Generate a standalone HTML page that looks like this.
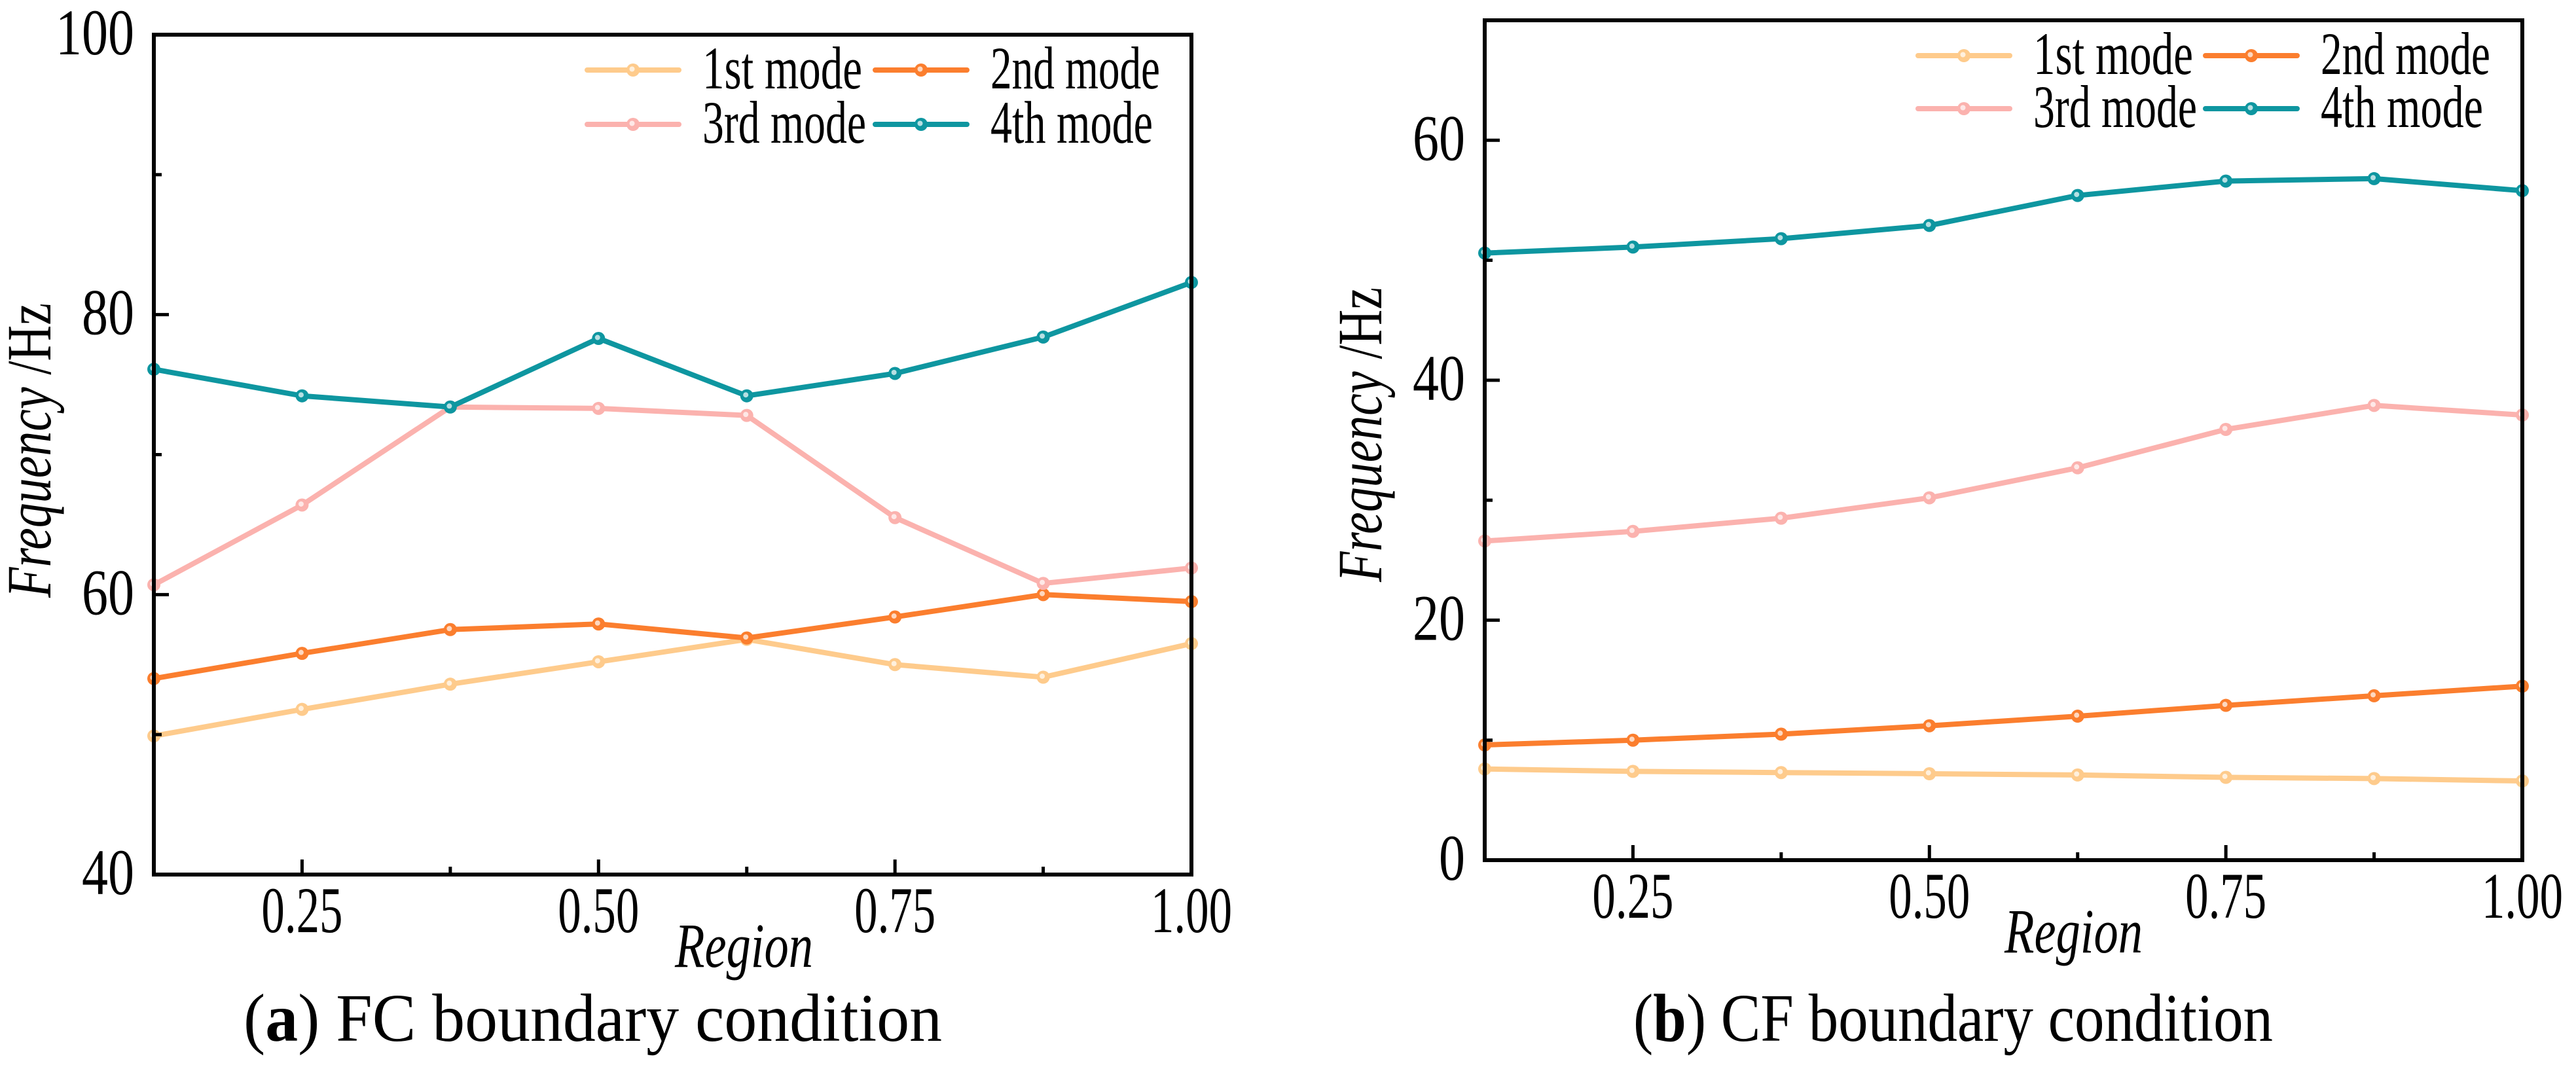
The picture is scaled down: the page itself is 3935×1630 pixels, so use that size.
<!DOCTYPE html>
<html><head><meta charset="utf-8">
<style>
html,body{margin:0;padding:0;background:#fff;}
svg{display:block;font-family:"Liberation Serif","Times New Roman",serif;}
</style></head>
<body>
<svg id="fig" width="3935" height="1630" viewBox="0 0 3935 1630" xmlns="http://www.w3.org/2000/svg"></svg>
<script>
const regions = [0.125,0.25,0.375,0.5,0.625,0.75,0.875,1.0];
const seriesNames = ["1st mode","2nd mode","3rd mode","4th mode"];
const seriesColors = ["#FECB8C","#FB7E2E","#FBB2AE","#0E96A0"];
const fcMode1 = [49.9,51.8,53.6,55.2,56.8,55.0,54.1,56.5];
const fcMode2 = [54.0,55.8,57.5,57.9,56.9,58.4,60.0,59.5];
const fcMode3 = [60.7,66.4,73.4,73.3,72.8,65.5,60.8,61.9];
const fcMode4 = [76.1,74.2,73.4,78.3,74.2,75.8,78.4,82.3];
const cfMode1 = [7.6,7.4,7.3,7.2,7.1,6.9,6.8,6.6];
const cfMode2 = [9.6,10.0,10.5,11.2,12.0,12.9,13.7,14.5];
const cfMode3 = [26.6,27.4,28.5,30.2,32.7,35.9,37.9,37.1];
const cfMode4 = [50.6,51.1,51.8,52.9,55.4,56.6,56.8,55.8];
const xTickValues = [0.25,0.5,0.75,1.0];
const xTickLabels = ["0.25","0.50","0.75","1.00"];
const fcYTicks = [40,60,80,100];
const fcYMinor = [50,70,90];
const cfYTicks = [0,20,40,60];
const cfYMinor = [10,30,50];
const legendWidths = [244,259,250,248];

const NS="http://www.w3.org/2000/svg";
const svg=document.getElementById('fig');
function mk(tag,attrs,parent,text){const e=document.createElementNS(NS,tag);for(const k in attrs)e.setAttribute(k,attrs[k]);if(text!==undefined)e.textContent=text;(parent||svg).appendChild(e);return e;}

function panel(cfg){
  const g=mk('g',{});
  
  
  const X=v=>cfg.L+(v-0.125)/(1-0.125)*(cfg.R-cfg.L);
  const Y=v=>cfg.B-(v-cfg.ymin)/(cfg.ymax-cfg.ymin)*(cfg.B-cfg.T);
  cfg.data.forEach((arr,si)=>{
    const sg=mk('g',{},g);
    
    
    const pts=arr.map((v,i)=>X(regions[i]).toFixed(1)+','+Y(v).toFixed(1)).join(' ');
    const pl=mk('polyline',{points:pts,fill:'none',stroke:seriesColors[si],'stroke-width':8,'stroke-linejoin':'round'},sg);
    
    
    arr.forEach((v,i)=>{
      const c=mk('circle',{cx:X(regions[i]),cy:Y(v),r:10,fill:seriesColors[si]},sg);
      
      
      mk('circle',{cx:X(regions[i])-1.5,cy:Y(v)-1.5,r:4,fill:'#fff','fill-opacity':0.7},sg);
    });
  });
  const fr=mk('rect',{x:cfg.L,y:cfg.T,width:cfg.R-cfg.L,height:cfg.B-cfg.T,fill:'none',stroke:'#000','stroke-width':6},g);
  
  
  regions.forEach(v=>{
    const major=xTickValues.includes(v);
    if(v===0.125)return;
    mk('line',{x1:X(v),x2:X(v),y1:cfg.B,y2:cfg.B-(major?23:12),stroke:'#000','stroke-width':5},g);
  });
  xTickValues.forEach((v,i)=>{
    const t=mk('text',{x:X(v),y:cfg.B+88,'font-size':100,'text-anchor':'middle',textLength:124,lengthAdjust:'spacingAndGlyphs'},g,xTickLabels[i]);
    
    
  });
  cfg.yt.forEach(v=>{
    mk('line',{x1:cfg.L,x2:cfg.L+23,y1:Y(v),y2:Y(v),stroke:'#000','stroke-width':5},g);
    const s=String(v);
    const t=mk('text',{x:cfg.L-30,y:Y(v)+30,'font-size':100,'text-anchor':'end',textLength:s.length*40,lengthAdjust:'spacingAndGlyphs'},g,s);
    
    
  });
  cfg.ym.forEach(v=>{mk('line',{x1:cfg.L,x2:cfg.L+12,y1:Y(v),y2:Y(v),stroke:'#000','stroke-width':5},g);});
  const xt=mk('text',{x:cfg.regX,y:cfg.B+141,'font-size':96,'font-style':'italic',textLength:211,lengthAdjust:'spacingAndGlyphs'},g,'Region');
  
  
  const yt=mk('text',{x:0,y:0,'font-size':96,'text-anchor':'middle',transform:`translate(${cfg.ytX},${cfg.ytY}) rotate(-90)`,textLength:450,lengthAdjust:'spacingAndGlyphs'},g);
  
  
  mk('tspan',{'font-style':'italic'},yt,'Frequency');
  mk('tspan',{},yt,' /Hz');
  const cap=mk('text',{x:cfg.capX,y:1590,'font-size':104,textLength:cfg.capW,lengthAdjust:'spacingAndGlyphs'},g);
  
  
  mk('tspan',{},cap,'(');
  mk('tspan',{'font-weight':'bold'},cap,cfg.letter);
  mk('tspan',{},cap,') '+cfg.cap);
  const lg=mk('g',{},g);
  
  
  seriesNames.forEach((n,i)=>{
    const col=i%2,row=Math.floor(i/2);
    const lx=cfg.legX[col],ly=cfg.legY[row];
    const e=mk('g',{},lg);
    
    
    mk('line',{x1:lx,x2:lx+140,y1:ly,y2:ly,stroke:seriesColors[i],'stroke-width':8,'stroke-linecap':'round'},e);
    mk('circle',{cx:lx+70,cy:ly,r:10,fill:seriesColors[i]},e);
    mk('circle',{cx:lx+68.5,cy:ly-1.5,r:4,fill:'#fff','fill-opacity':0.7},e);
    mk('text',{x:lx+176,y:ly+28,'font-size':92,textLength:legendWidths[i],lengthAdjust:'spacingAndGlyphs'},e,n);
  });
}
panel({name:'fc-chart',L:235,R:1820,T:53,B:1336,ymin:40,ymax:100,yt:fcYTicks,ym:fcYMinor,
  data:[fcMode1,fcMode2,fcMode3,fcMode4],regX:1031,ytX:77,ytY:688,capX:372,capW:1067,letter:'a',cap:'FC boundary condition',
  legX:[897,1337],legY:[107,190]});
panel({name:'cf-chart',L:2268,R:3853,T:31,B:1314,ymin:0,ymax:70,yt:cfYTicks,ym:cfYMinor,
  data:[cfMode1,cfMode2,cfMode3,cfMode4],regX:3062,ytX:2110,ytY:664,capX:2495,capW:977,letter:'b',cap:'CF boundary condition',
  legX:[2930,3369],legY:[85,166]});
</script>
</body></html>
